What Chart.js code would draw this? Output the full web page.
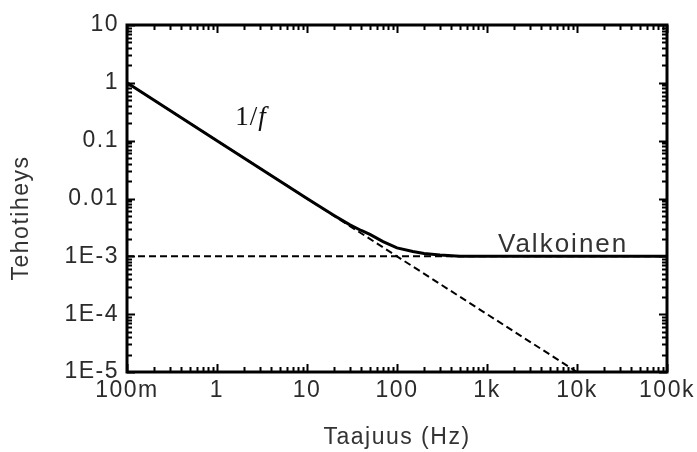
<!DOCTYPE html>
<html>
<head>
<meta charset="utf-8">
<script src="https://cdn.jsdelivr.net/npm/chart.js@4"></script>
<style>
    html, body { margin: 0; padding: 0; background: #fff; }
    #wrap { width: 697px; height: 452px; }
</style>
</head>
<body>
<div id="wrap"><canvas id="chartTehotiheys"></canvas></div>
<script>
const xTickValues = [0.1, 1, 10, 100, 1000, 10000, 100000];
const xTickLabels = ["100m", "1", "10", "100", "1k", "10k", "100k"];
const yTickValues = [10, 1, 0.1, 0.01, 0.001, 0.0001, 0.00001];
const yTickLabels = ["10", "1", "0.1", "0.01", "1E-3", "1E-4", "1E-5"];

// kokonaiskohina (yhtenäinen viiva)
const kokoTaajuus = [0.1, 1, 10, 20, 30, 40, 50, 70, 100, 150, 200, 300, 500, 100000];
const kokoTeho = [1, 0.1, 0.01, 0.0051, 0.0035, 0.0028, 0.0024, 0.0018, 0.0014, 0.00121, 0.00112, 0.00105, 0.001, 0.001];

// 1/f-kohina (katkoviiva)
const pinkkiTaajuus = [0.1, 10000];
const pinkkiTeho = [1, 0.00001];

// valkoinen kohina (katkoviiva)
const valkoinenTaajuus = [0.1, 100000];
const valkoinenTeho = [0.001, 0.001];

function pisteet(taajuus, teho) {
    return taajuus.map((f, i) => ({ x: f, y: teho[i] }));
}

const tikit = {
    id: "tikit",
    beforeDraw(chart) {
        chart.ctx.letterSpacing = "1.5px";
    },
    afterDatasetsDraw(chart) {
        const { ctx, chartArea: a, scales: { x, y } } = chart;
        ctx.save();
        ctx.strokeStyle = "#000";
        ctx.setLineDash([]);
        ctx.lineWidth = 2;
        ctx.beginPath();
        for (let e = -1; e <= 5; e++) {
            for (let m = 1; m <= 9; m++) {
                const v = m * Math.pow(10, e);
                if (e === 5 && m > 1) break;
                const px = Math.round(x.getPixelForValue(v)) + 0.5;
                const len = m === 1 ? 8 : 5;
                ctx.moveTo(px, a.bottom);
                ctx.lineTo(px, a.bottom - len);
                ctx.moveTo(px, a.top);
                ctx.lineTo(px, a.top + len);
            }
        }
        for (let e = -5; e <= 1; e++) {
            for (let m = 1; m <= 9; m++) {
                const v = m * Math.pow(10, e);
                if (e === 1 && m > 1) break;
                const py = Math.round(y.getPixelForValue(v)) + 0.5;
                const len = m === 1 ? 8 : 5;
                ctx.moveTo(a.left, py);
                ctx.lineTo(a.left + len, py);
                ctx.moveTo(a.right, py);
                ctx.lineTo(a.right - len, py);
            }
        }
        ctx.stroke();
        ctx.lineWidth = 3;
        ctx.strokeRect(a.left, a.top, a.right - a.left, a.bottom - a.top);

        // tekstit
        ctx.fillStyle = "#111";
        ctx.textBaseline = "alphabetic";
        ctx.textAlign = "left";
        ctx.letterSpacing = "1px";
        const lx = x.getPixelForValue(1.6);
        const ly = y.getPixelForValue(0.19);
        ctx.font = "27px 'Liberation Serif'";
        ctx.fillText("1/", lx, ly);
        const w = ctx.measureText("1/").width;
        ctx.font = "italic 27px 'Liberation Serif'";
        ctx.fillText("f", lx + w, ly);

        ctx.fillStyle = "#333";
        ctx.letterSpacing = "2px";
        ctx.font = "26px 'Liberation Sans'";
        ctx.fillText("Valkoinen", x.getPixelForValue(1325), y.getPixelForValue(0.00119));

        // y-akselin otsikko
        ctx.letterSpacing = "1.5px";
        ctx.font = "23px 'Liberation Sans'";
        ctx.translate(28, 218);
        ctx.rotate(-Math.PI / 2);
        ctx.textAlign = "center";
        ctx.fillText("Tehotiheys", 0, 0);
        ctx.restore();
    }
};

document.addEventListener("DOMContentLoaded", () => {
    const ctx = document.getElementById("chartTehotiheys");

    new Chart(ctx, {
        type: "line",
        data: {
            datasets: [{
                label: "Kokonais",
                data: pisteet(kokoTaajuus, kokoTeho),
                borderColor: "#000",
                borderWidth: 3,
                pointRadius: 0,
                tension: 0
            }, {
                label: "1/f",
                data: pisteet(pinkkiTaajuus, pinkkiTeho),
                borderColor: "#000",
                borderWidth: 2,
                borderDash: [7, 4],
                pointRadius: 0
            }, {
                label: "Valkoinen",
                data: pisteet(valkoinenTaajuus, valkoinenTeho),
                borderColor: "#000",
                borderWidth: 2,
                borderDash: [7, 4],
                pointRadius: 0
            }]
        },
        options: {
            responsive: true,
            maintainAspectRatio: false,
            animation: false,
            layout: { padding: { top: 25, right: 30, left: 0, bottom: 0 } },
            plugins: {
                legend: { display: false },
                tooltip: { enabled: false }
            },
            scales: {
                x: {
                    type: "logarithmic",
                    min: 0.1,
                    max: 100000,
                    grid: { display: false, drawTicks: false, tickLength: 0 },
                    border: { display: false },
                    afterBuildTicks: scale => {
                        scale.ticks = xTickValues.map(v => ({ value: v }));
                    },
                    afterFit: scale => { scale.height = 80; },
                    ticks: {
                        autoSkip: false,
                        maxRotation: 0,
                        padding: 5,
                        color: "#2b2b2b",
                        font: { family: "'Liberation Sans'", size: 23 },
                        callback: value => xTickLabels[xTickValues.indexOf(value)]
                    },
                    title: {
                        display: true,
                        text: "Taajuus (Hz)",
                        color: "#333",
                        padding: { top: 0, bottom: 1 },
                        font: { family: "'Liberation Sans'", size: 23 }
                    }
                },
                y: {
                    type: "logarithmic",
                    min: 0.00001,
                    max: 10,
                    grid: { display: false, drawTicks: false, tickLength: 0 },
                    border: { display: false },
                    afterBuildTicks: scale => {
                        scale.ticks = yTickValues.map(v => ({ value: v }));
                    },
                    afterFit: scale => { scale.width = 127; },
                    ticks: {
                        autoSkip: false,
                        padding: 8,
                        color: "#2b2b2b",
                        font: { family: "'Liberation Sans'", size: 23 },
                        callback: value => yTickLabels[yTickValues.indexOf(value)]
                    },
                    title: { display: false }
                }
            }
        },
        plugins: [tikit]
    });
});
</script>
</body>
</html>
